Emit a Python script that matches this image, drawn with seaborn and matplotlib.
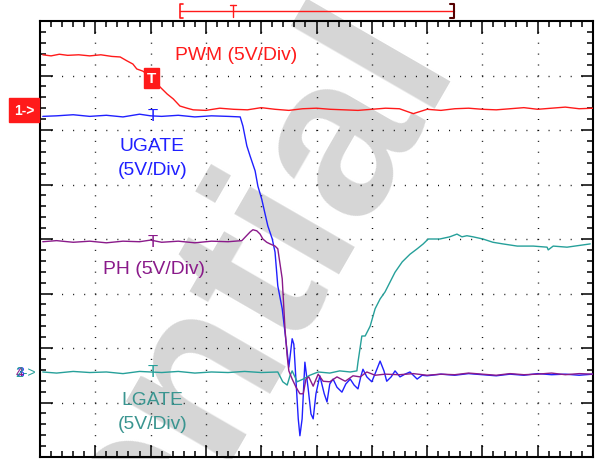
import numpy as np
import pandas as pd
import seaborn as sns
import matplotlib
matplotlib.use("Agg")
import matplotlib.pyplot as plt

# scope screen: 10 horizontal divisions, 8 vertical divisions, 5V/Div on every channel
pwm_t = [0.05, 0.2, 0.35, 0.5, 0.7, 0.9, 1.1, 1.3, 1.45, 1.57, 1.68, 1.75, 1.86, 1.99, 2.17, 2.30,
         2.41, 2.53, 2.66, 2.77, 3.0, 3.25, 3.5, 3.75, 4.0, 4.25, 4.5, 4.75, 5.0, 5.25, 5.5, 5.75,
         6.0, 6.25, 6.5, 6.75, 7.0, 7.25, 7.5, 7.75, 8.0, 8.25, 8.5, 8.75, 9.0, 9.25, 9.5, 9.75, 10.0]
pwm_v = [7.38, 7.36, 7.39, 7.37, 7.38, 7.36, 7.38, 7.35, 7.34, 7.27, 7.21, 7.12, 7.08, 6.99, 6.79, 6.66,
         6.57, 6.44, 6.40, 6.37, 6.36, 6.40, 6.38, 6.37, 6.41, 6.38, 6.36, 6.39, 6.40, 6.38, 6.37, 6.36,
         6.38, 6.40, 6.39, 6.30, 6.38, 6.36, 6.39, 6.40, 6.38, 6.37, 6.39, 6.41, 6.38, 6.40, 6.42, 6.39, 6.40]

ugate_t = [0.05, 0.3, 0.6, 0.9, 1.2, 1.5, 1.8, 2.0, 2.2, 2.5, 2.8, 3.1, 3.4, 3.62, 3.67, 3.74, 3.80,
           3.89, 3.94, 4.01, 4.07, 4.12, 4.20, 4.25, 4.30, 4.38, 4.43, 4.50, 4.56, 4.59, 4.67, 4.70,
           4.74, 4.79, 4.85, 4.90, 4.94, 4.99, 5.06, 5.14, 5.19, 5.24, 5.30, 5.37, 5.46, 5.53, 5.61,
           5.68, 5.75, 5.80, 5.84, 5.91, 6.00, 6.08, 6.15, 6.22, 6.27, 6.35, 6.42, 6.51, 6.60, 6.69,
           6.82, 6.91, 7.00, 7.25, 7.5, 7.75, 8.0, 8.25, 8.5, 8.75, 9.0, 9.25, 9.5, 9.75, 10.0]
ugate_v = [6.25, 6.26, 6.28, 6.25, 6.27, 6.24, 6.29, 6.26, 6.25, 6.27, 6.24, 6.26, 6.25, 6.24, 6.07, 5.71, 5.52,
           5.25, 4.97, 4.73, 4.46, 4.24, 4.00, 3.76, 3.14, 2.72, 2.29, 1.65, 2.17, 2.07, 0.70, 0.39,
           0.70, 1.74, 1.25, 0.79, 0.70, 1.16, 1.49, 1.16, 1.01, 1.34, 1.43, 1.28, 1.19, 1.34, 1.43,
           1.32, 1.25, 1.47, 1.61, 1.47, 1.38, 1.58, 1.76, 1.58, 1.39, 1.47, 1.58, 1.47, 1.52, 1.56,
           1.43, 1.50, 1.49, 1.52, 1.50, 1.53, 1.51, 1.49, 1.52, 1.50, 1.53, 1.51, 1.52, 1.50, 1.52]

ph_t = [0.05, 0.3, 0.6, 0.9, 1.2, 1.5, 1.8, 2.0, 2.2, 2.5, 2.8, 3.1, 3.4, 3.65, 3.80, 3.85, 3.92,
        3.98, 4.03, 4.10, 4.16, 4.25, 4.30, 4.38, 4.43, 4.47, 4.50, 4.56, 4.63, 4.70, 4.76, 4.81,
        4.86, 4.94, 5.03, 5.12, 5.24, 5.37, 5.52, 5.66, 5.79, 5.91, 6.06, 6.24, 6.5, 6.75, 7.0,
        7.25, 7.5, 7.75, 8.0, 8.25, 8.5, 8.75, 9.0, 9.25, 9.5, 9.75, 10.0]
ph_v = [3.95, 3.97, 3.94, 3.96, 3.93, 3.96, 3.95, 3.98, 3.94, 3.96, 3.93, 3.96, 3.95, 3.97, 4.13, 4.17, 4.15,
        4.09, 4.00, 3.94, 3.91, 3.87, 3.82, 3.27, 2.35, 1.85, 1.58, 1.43, 1.28, 1.16, 1.16, 1.43,
        1.47, 1.30, 1.52, 1.39, 1.38, 1.47, 1.39, 1.49, 1.47, 1.56, 1.50, 1.52, 1.51, 1.53, 1.50,
        1.52, 1.51, 1.54, 1.52, 1.50, 1.53, 1.51, 1.52, 1.54, 1.51, 1.53, 1.52]

lgate_t = [0.05, 0.3, 0.6, 0.9, 1.2, 1.5, 1.8, 2.0, 2.2, 2.5, 2.8, 3.1, 3.4, 3.7, 4.0, 4.3, 4.39,
           4.47, 4.52, 4.56, 4.65, 4.76, 4.88, 5.03, 5.24, 5.42, 5.61, 5.73, 5.75, 5.82, 5.88, 5.97,
           6.06, 6.15, 6.24, 6.33, 6.42, 6.55, 6.69, 6.82, 6.93, 7.02, 7.23, 7.41, 7.54, 7.63, 7.72,
           7.83, 8.01, 8.19, 8.37, 8.63, 8.92, 9.17, 9.19, 9.28, 9.53, 9.95]
lgate_v = [1.56, 1.54, 1.57, 1.55, 1.56, 1.53, 1.57, 1.56, 1.55, 1.57, 1.54, 1.56, 1.55, 1.57, 1.55, 1.56, 1.38,
           1.32, 1.49, 1.58, 1.38, 1.43, 1.50, 1.56, 1.54, 1.58, 1.56, 1.58, 1.74, 2.22, 2.22, 2.40,
           2.72, 2.90, 3.03, 3.21, 3.39, 3.58, 3.72, 3.82, 3.91, 4.00, 4.00, 4.04, 4.09, 4.04, 4.06,
           4.04, 4.00, 3.94, 3.91, 3.87, 3.87, 3.85, 3.80, 3.87, 3.85, 3.91]

red = "#ff1a1a"
blue = "#2020ff"
purple = "#8a1a8a"
teal = "#26a09a"

sns.set_style("white")
plt.rcParams['font.family'] = ['Liberation Sans', 'DejaVu Sans']

fig = plt.figure(figsize=(5.99, 4.6), dpi=100)
ax = fig.add_axes([40 / 599, 2 / 460, 553 / 599, 436 / 460])
ax.set_facecolor("none")

# watermark behind everything
fig.text(0.7596, 0.874, "Confidential", rotation=60, rotation_mode="anchor",
         ha="right", va="baseline", fontsize=165, fontweight="bold", color="#d6d6d6", zorder=-1)

traces = [(pwm_t, pwm_v, red), (ugate_t, ugate_v, blue),
          (lgate_t, lgate_v, teal), (ph_t, ph_v, purple)]
for t, v, c in traces:
    df = pd.DataFrame({"t": t, "v": v})
    sns.lineplot(data=df, x="t", y="v", ax=ax, color=c, lw=1.0, estimator=None, sort=False, zorder=3)

ax.set_xlim(0, 10)
ax.set_ylim(0, 8)
ax.set_xticks(np.arange(0, 11, 1))
ax.set_yticks(np.arange(0, 9, 1))
ax.set_xticks(np.arange(0, 10.01, 0.2), minor=True)
ax.set_yticks(np.arange(0, 8.01, 0.2), minor=True)
ax.set_xlabel("")
ax.set_ylabel("")
ax.tick_params(which="both", direction="in", top=True, right=True, bottom=True, left=True,
               labelbottom=False, labelleft=False, color="black", width=1.1)
ax.tick_params(which="major", length=9)
ax.tick_params(which="minor", length=4)
for s in ax.spines.values():
    s.set_color("black")
    s.set_linewidth(1.5)

ax.set_axisbelow(True)
ax.xaxis.grid(True, which="major", color="black", linewidth=1.0, linestyle=(0.35, (0.7, 7.15)))
ax.yaxis.grid(True, which="major", color="black", linewidth=1.0, linestyle=(0.35, (0.7, 7.26)))

# channel labels
fs = 13.9
ax.text(3.54, 7.39, "PWM (5V/Div)", color=red, fontsize=fs, ha="center", va="center")
ax.text(2.03, 5.71, "UGATE", color=blue, fontsize=fs, ha="center", va="center")
ax.text(2.03, 5.27, "(5V/Div)", color=blue, fontsize=fs, ha="center", va="center")
ax.text(2.06, 3.45, "PH (5V/Div)", color=purple, fontsize=fs, ha="center", va="center")
ax.text(2.04, 1.06, "LGATE", color="#3a9590", fontsize=fs, ha="center", va="center")
ax.text(2.03, 0.61, "(5V/Div)", color="#3a9590", fontsize=fs, ha="center", va="center")

# trigger markers
ax.text(2.02, 6.96, "T", color="white", fontsize=11, fontweight="bold", ha="center", va="center",
        zorder=5, bbox=dict(boxstyle="square,pad=0.2", fc=red, ec=red))
for lvl, c in [(6.26, blue), (3.96, purple), (1.56, teal)]:
    ax.text(2.03, lvl, "T", color=c, fontsize=12, ha="center", va="center", zorder=5)

# ground reference markers
ax.text(-0.29, 6.37, "1->", color="white", fontsize=10, fontweight="bold", ha="center", va="center",
        clip_on=False, bbox=dict(boxstyle="square,pad=0.35", fc=red, ec=red))
ax.text(-0.43, 1.56, "3", color=blue, fontsize=10, ha="left", va="center", clip_on=False)
ax.text(-0.44, 1.56, "4", color=purple, fontsize=10, ha="left", va="center", clip_on=False)
ax.text(-0.45, 1.56, "2->", color=teal, fontsize=10, ha="left", va="center", clip_on=False)

# acquisition window bracket on top
ax.plot([2.53, 7.49], [8.18, 8.18], color=red, lw=1.0, clip_on=False)
ax.plot([2.58, 2.53, 2.53, 2.58], [8.31, 8.31, 8.06, 8.06], color=red, lw=1.2, clip_on=False)
ax.plot([7.42, 7.49, 7.49, 7.42], [8.31, 8.31, 8.06, 8.06], color="#550000", lw=1.5, clip_on=False)
ax.plot([3.43, 3.55], [8.29, 8.29], color=red, lw=1.0, clip_on=False)
ax.plot([3.49, 3.49], [8.29, 8.07], color=red, lw=1.0, clip_on=False)

fig.savefig("out.png", dpi=100)
